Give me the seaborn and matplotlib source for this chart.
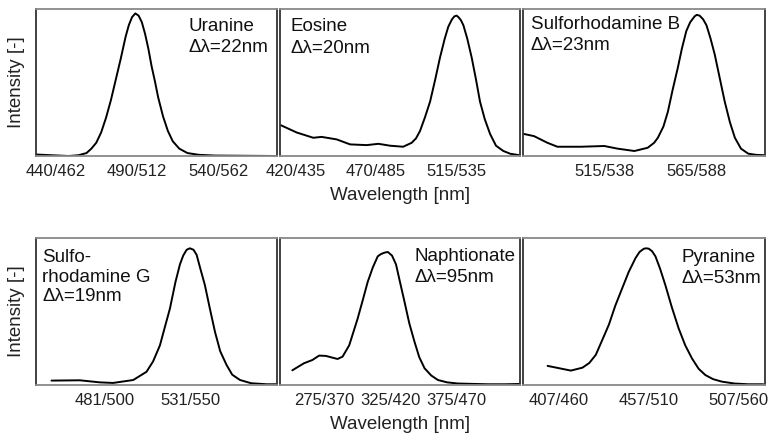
import numpy as np
import pandas as pd
import matplotlib
matplotlib.use("Agg")
import matplotlib.pyplot as plt
import seaborn as sns

# ---- data (emission wavelength nm, normalised intensity) ----
uranine_x = [450, 460, 470, 476, 481, 484, 487, 490, 493, 496, 499, 502, 505, 507, 509, 511, 513, 515, 517,
             519, 521, 523, 525, 528, 531, 534, 538, 543, 550, 560, 597]
uranine_y = [0.01, 0.005, 0.0, 0.005, 0.02, 0.05, 0.09, 0.16, 0.26, 0.38, 0.52, 0.66, 0.81, 0.89, 0.945, 0.97,
             0.955, 0.91, 0.83, 0.73, 0.61, 0.51, 0.40, 0.27, 0.17, 0.10, 0.05, 0.02, 0.008, 0.003, 0.0]

eosine_x = [425.4, 435.4, 445.8, 451, 460.4, 468.8, 479.2, 486.5, 493.8, 502, 507.3, 510, 512.5, 515.5, 518.8,
            522, 525, 528, 530.2, 532.5, 534, 535.4, 536.5, 538, 539.6, 542, 544.8, 547.5, 550, 553, 556.3,
            560, 564.6, 569, 575]
eosine_y = [0.21, 0.16, 0.124, 0.13, 0.113, 0.079, 0.074, 0.083, 0.07, 0.063, 0.09, 0.12, 0.17, 0.26, 0.37,
            0.52, 0.67, 0.80, 0.88, 0.93, 0.95, 0.955, 0.945, 0.925, 0.89, 0.80, 0.67, 0.52, 0.37, 0.25, 0.15,
            0.07, 0.034, 0.015, 0.005]

srb_x = [494.5, 500, 507.2, 512.6, 525.3, 538, 545.2, 554.3, 561.5, 565, 567, 570, 572.4, 575, 577.8, 580,
         582.4, 584.5, 586.9, 588, 589.6, 591.5, 593.3, 595.5, 597.8, 600.5, 603.2, 606, 608.7, 612, 615.9,
         620, 625]
srb_y = [0.15, 0.135, 0.09, 0.063, 0.063, 0.068, 0.05, 0.034, 0.056, 0.09, 0.124, 0.20, 0.30, 0.45, 0.60,
         0.73, 0.85, 0.91, 0.95, 0.96, 0.955, 0.93, 0.89, 0.80, 0.69, 0.53, 0.37, 0.23, 0.124, 0.05, 0.016,
         0.008, 0.005]

srg_x = [469, 485.5, 497, 504.8, 516.5, 524.2, 528, 532, 535, 537.8, 541, 543.6, 545.5, 547.5, 549.4, 551.5,
         553.3, 555.5, 558.1, 561, 564, 567, 570.7, 574, 578.5, 585, 594, 599.8]
srg_y = [0.03, 0.032, 0.018, 0.014, 0.034, 0.09, 0.16, 0.27, 0.40, 0.52, 0.70, 0.82, 0.88, 0.92, 0.93, 0.92,
         0.886, 0.79, 0.68, 0.52, 0.36, 0.23, 0.136, 0.07, 0.034, 0.012, 0.005, 0.005]

naph_x = [346.3, 355.1, 361.4, 366.5, 371.5, 380.4, 384.2, 389.2, 395.5, 399.5, 403.1, 407, 410.7, 413,
          415.7, 418.3, 421.5, 424.5, 427.5, 430.8, 434.5, 438.4, 442, 446, 451, 456.1, 463, 471.3, 494,
          506.7, 518]
naph_y = [0.10, 0.148, 0.17, 0.20, 0.198, 0.177, 0.193, 0.27, 0.45, 0.58, 0.70, 0.80, 0.875, 0.89, 0.90,
          0.905, 0.88, 0.82, 0.70, 0.57, 0.42, 0.295, 0.19, 0.114, 0.065, 0.034, 0.018, 0.01, 0.005, 0.005,
          0.007]

pyr_x = [453.7, 460.2, 466.7, 473.2, 477, 480.6, 484, 487.9, 491.5, 495.4, 499, 502.8, 505, 507.4, 508.8,
         510.2, 512, 513.9, 516.5, 519.4, 523, 526.8, 530.5, 534.3, 538, 541.7, 546, 550.9, 558, 565.7, 574]
pyr_y = [0.13, 0.114, 0.098, 0.118, 0.15, 0.205, 0.30, 0.41, 0.54, 0.66, 0.77, 0.864, 0.905, 0.927, 0.93,
         0.927, 0.91, 0.875, 0.79, 0.68, 0.53, 0.386, 0.27, 0.18, 0.11, 0.068, 0.04, 0.023, 0.01, 0.005, 0.005]

names = ["Uranine\n\u0394\u03bb=22nm", "Eosine\n\u0394\u03bb=20nm", "Sulforhodamine B\n\u0394\u03bb=23nm",
         "Sulfo-\nrhodamine G\n\u0394\u03bb=19nm", "Naphtionate\n\u0394\u03bb=95nm", "Pyranine\n\u0394\u03bb=53nm"]

tick_pos = [[462, 512, 562], [435, 485, 535], [538, 588],
            [500, 550], [370, 420, 470], [460, 510, 560]]
tick_labels = [["440/462", "490/512", "540/562"], ["420/435", "470/485", "515/535"], ["515/538", "565/588"],
               ["481/500", "531/550"], ["275/370", "325/420", "375/470"], ["407/460", "457/510", "507/560"]]

xlims = [(450, 598), (425, 575), (494, 625), (460, 600), (337, 518), (440, 575)]

series = [(uranine_x, uranine_y), (eosine_x, eosine_y), (srb_x, srb_y),
          (srg_x, srg_y), (naph_x, naph_y), (pyr_x, pyr_y)]

# text positions (axes fraction, left/top)
text_pos = [(0.633, 0.94), (0.045, 0.937), (0.033, 0.955),
            (0.026, 0.925), (0.56, 0.935), (0.653, 0.925)]
line_sp = [1.33, 1.33, 1.33, 1.2, 1.33, 1.33]

sns.set_style("white")
plt.rcParams['font.family'] = ['Liberation Sans', 'DejaVu Sans']

W, H = 771, 434
fig = plt.figure(figsize=(W / 100, H / 100), dpi=100)

cols = [(36, 277), (280, 520), (523, 765)]
rows = [(9, 156), (238, 385)]

for i in range(6):
    r, c = divmod(i, 3)
    x0, x1 = cols[c]
    y0, y1 = rows[r]
    ax = fig.add_axes([x0 / W, 1 - y1 / H, (x1 - x0) / W, (y1 - y0) / H])
    xs, ys = series[i]
    df = pd.DataFrame({"x": xs, "y": ys})
    sns.lineplot(data=df, x="x", y="y", ax=ax, color="black", linewidth=1.4)
    ax.set_xlim(*xlims[i])
    ax.set_ylim(0, 1.0)
    ax.set_yticks([])
    ax.set_xticks(tick_pos[i])
    ax.set_xticklabels(tick_labels[i], fontsize=12, color="#222222")
    ax.tick_params(axis="x", direction="in", length=3, width=0.8, color="#888888", pad=6)
    ax.set_xlabel("")
    ax.set_ylabel("")
    for side in ["left", "right"]:
        ax.spines[side].set_color("#333333")
        ax.spines[side].set_linewidth(1.3)
    for side in ["top", "bottom"]:
        ax.spines[side].set_color("#888888")
        ax.spines[side].set_linewidth(1.3)
    tx, ty = text_pos[i]
    ax.text(tx, ty, names[i], transform=ax.transAxes, ha="left", va="top",
            fontsize=13.5, color="#111111", linespacing=line_sp[i])
    if c == 0:
        ax.set_ylabel("Intensity [-]", fontsize=13.5, color="#222222", labelpad=8)
    if c == 1:
        ax.set_xlabel("Wavelength [nm]", fontsize=13.5, color="#222222", labelpad=5.5)

fig.savefig("out.png", dpi=100)
